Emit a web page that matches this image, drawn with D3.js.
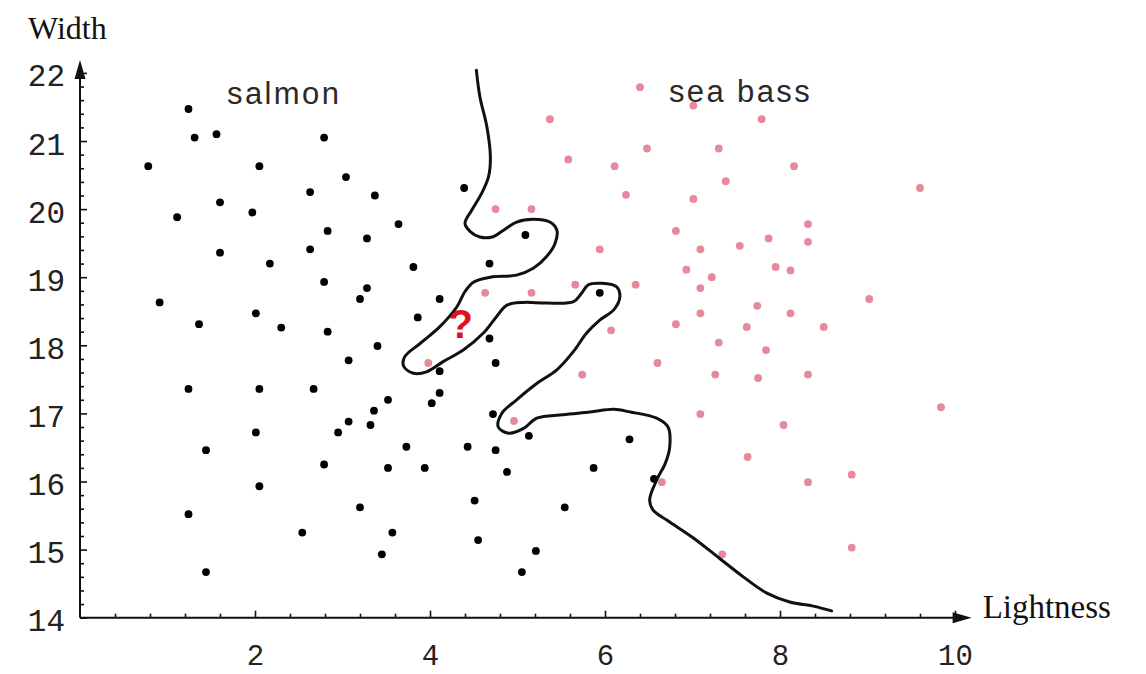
<!DOCTYPE html>
<html>
<head>
<meta charset="utf-8">
<script src="https://cdn.jsdelivr.net/npm/d3@7"></script>
<style>
  html, body { margin: 0; padding: 0; background: #fff; }
  svg { display: block; }
</style>
</head>
<body>
<svg id="chart" width="1146" height="674"></svg>
<script>
// Salmon samples (lightness, width)
const salmonLightness = [1.24, 1.31, 1.56, 2.79, 0.78, 2.05, 3.04, 2.63, 3.37, 1.60, 1.11, 1.97, 3.64, 2.83, 3.28,
  2.63, 1.60, 2.17, 2.79, 3.28, 3.20, 0.91, 2.01, 1.36, 2.30, 2.83, 3.40, 3.07, 1.24, 2.05, 2.67, 3.52, 3.36,
  3.07, 2.95, 3.32, 2.01, 1.44, 2.79, 3.52, 2.05, 3.20, 1.24, 2.54, 3.57, 3.45, 1.44, 4.39, 5.09, 3.81, 4.68,
  4.11, 3.86, 5.94, 4.68, 4.75, 4.11, 4.11, 4.02, 4.72, 5.13, 6.28, 3.73, 4.43, 4.75, 3.94, 4.88, 5.87, 6.56,
  4.51, 5.54, 4.55, 5.21, 5.05];
const salmonWidth = [21.47, 21.05, 21.10, 21.05, 20.63, 20.63, 20.47, 20.25, 20.20, 20.10, 19.88, 19.95, 19.78, 19.68, 19.57,
  19.41, 19.36, 19.20, 18.93, 18.84, 18.68, 18.63, 18.47, 18.31, 18.26, 18.20, 17.99, 17.78, 17.36, 17.36, 17.36, 17.20, 17.04,
  16.88, 16.72, 16.83, 16.72, 16.46, 16.25, 16.20, 15.93, 15.62, 15.52, 15.25, 15.25, 14.93, 14.67, 20.31, 19.62, 19.15, 19.20,
  18.68, 18.41, 18.77, 18.10, 17.74, 17.62, 17.30, 17.15, 16.99, 16.67, 16.62, 16.51, 16.51, 16.46, 16.20, 16.14, 16.20, 16.04,
  15.72, 15.62, 15.14, 14.98, 14.67];

// Sea bass samples (lightness, width)
const seaBassLightness = [6.40, 5.37, 7.01, 7.79, 6.48, 5.58, 6.11, 7.30, 7.38, 6.24, 7.01, 4.75, 5.16, 6.81, 5.94,
  7.09, 7.54, 7.87, 7.95, 6.93, 7.22, 7.09, 6.35, 5.66, 5.16, 4.63, 7.74, 7.09, 6.81, 7.62, 6.07, 8.16, 9.60, 8.32,
  8.32, 8.12, 9.02, 8.12, 8.50, 7.84, 7.75, 8.32, 9.84, 8.04, 7.63, 8.32, 8.82, 8.82, 7.30, 6.60, 5.74, 7.26, 7.09,
  4.96, 3.98, 6.65, 7.34];
const seaBassWidth = [21.79, 21.32, 21.52, 21.32, 20.89, 20.73, 20.63, 20.89, 20.41, 20.21, 20.15, 20.00, 20.00, 19.68, 19.41,
  19.41, 19.46, 19.57, 19.15, 19.11, 19.00, 18.84, 18.89, 18.89, 18.77, 18.77, 18.58, 18.47, 18.31, 18.27, 18.22, 20.63, 20.31, 19.78,
  19.52, 19.10, 18.68, 18.47, 18.27, 17.93, 17.52, 17.57, 17.09, 16.83, 16.36, 15.99, 16.10, 15.03, 18.04, 17.74, 17.57, 17.57, 16.99,
  16.89, 17.74, 15.99, 14.93];

// Decision boundary between the two classes
const boundaryLightness = [4.53, 4.57, 4.65, 4.69, 4.67, 4.59, 4.48, 4.40, 4.46, 4.57, 4.71, 4.84, 4.99, 5.18, 5.37,
  5.45, 5.43, 5.33, 5.18, 4.99, 4.69, 4.50, 4.40, 4.31, 4.11, 3.89, 3.71, 3.70, 3.81, 3.96, 4.15, 4.38, 4.61, 4.76,
  4.88, 5.07, 5.33, 5.64, 5.73, 5.81, 5.96, 6.13, 6.17, 6.10, 5.94, 5.79, 5.64, 5.45, 5.22, 4.99, 4.82, 4.78, 4.90,
  5.07, 5.22, 5.52, 5.83, 6.10, 6.29, 6.59, 6.72, 6.74, 6.69, 6.59, 6.51, 6.55, 6.71, 7.01, 7.31, 7.58, 7.85, 8.11,
  8.38, 8.59];
const boundaryWidth = [22.04, 21.65, 21.21, 20.77, 20.48, 20.23, 19.99, 19.79, 19.67, 19.59, 19.59, 19.69, 19.81, 19.85, 19.81,
  19.69, 19.50, 19.30, 19.13, 19.03, 19.00, 18.93, 18.79, 18.57, 18.27, 18.03, 17.83, 17.69, 17.59, 17.61, 17.76, 17.93, 18.18, 18.42,
  18.59, 18.63, 18.62, 18.64, 18.76, 18.89, 18.91, 18.86, 18.71, 18.52, 18.37, 18.18, 17.91, 17.64, 17.44, 17.20, 17.00, 16.80, 16.71,
  16.78, 16.93, 16.98, 17.02, 17.06, 17.02, 16.93, 16.80, 16.51, 16.27, 16.02, 15.73, 15.58, 15.43, 15.17, 14.87, 14.60, 14.36, 14.23,
  14.17, 14.10];

// Unclassified sample
const queryLightness = 4.35;
const queryWidth = 18.11;

const xTickValues = [2, 4, 6, 8, 10];
const xTickLabels = ["2", "4", "6", "8", "10"];
const yTickValues = [14, 15, 16, 17, 18, 19, 20, 21, 22];
const yTickLabels = ["14", "15", "16", "17", "18", "19", "20", "21", "22"];

const svg = d3.select("#chart");

const x = d3.scaleLinear().domain([0, 10]).range([80, 955]);
const y = d3.scaleLinear().domain([14, 22]).range([617.7, 72.9]);

const xMinor = d3.range(1, 26).map(i => +(i * 0.4).toFixed(2)).filter(v => !xTickValues.includes(v));
const yMinor = d3.range(1, 41).map(i => +(14 + i * 0.2).toFixed(2)).filter(v => Math.abs(v - Math.round(v)) > 1e-6);

const monoFont = "'Liberation Mono', 'DejaVu Sans Mono', monospace";
const serifFont = "'Liberation Serif', 'DejaVu Serif', serif";
const sansFont = "'Liberation Sans', Arial, sans-serif";

// Axes: ticks point into the plot area
const yAxis = d3.axisLeft(y)
  .tickValues(yTickValues)
  .tickFormat((d, i) => yTickLabels[i])
  .tickSizeInner(-7).tickSizeOuter(0).tickPadding(15);
const yAxisMinor = d3.axisLeft(y).tickValues(yMinor).tickFormat("").tickSizeInner(-4).tickSizeOuter(0);
const xAxis = d3.axisBottom(x)
  .tickValues(xTickValues)
  .tickFormat((d, i) => xTickLabels[i])
  .tickSizeInner(-7).tickSizeOuter(0).tickPadding(27);
const xAxisMinor = d3.axisBottom(x).tickValues(xMinor).tickFormat("").tickSizeInner(-4).tickSizeOuter(0);

function styleAxis(g, size) {
  g.select(".domain").remove();
  g.selectAll(".tick line").attr("stroke", "#111").attr("stroke-width", 1.6);
  g.selectAll(".tick text")
    .attr("font-family", monoFont)
    .attr("font-size", size)
    .attr("fill", "#222");
}

svg.append("g").attr("transform", `translate(${x(0)},0)`).call(yAxisMinor).call(styleAxis, 31);
const gy = svg.append("g").attr("transform", `translate(${x(0)},0)`).call(yAxis).call(styleAxis, 31);
gy.selectAll(".tick text").attr("dy", "0.42em");
svg.append("g").attr("transform", `translate(0,${y(14)})`).call(xAxisMinor).call(styleAxis, 29);
svg.append("g").attr("transform", `translate(0,${y(14)})`).call(xAxis).call(styleAxis, 29);

// Axis lines with arrowheads
const xEnd = x(10.19), yEnd = y(22.19);
svg.append("line")
  .attr("x1", x(0)).attr("y1", y(14)).attr("x2", xEnd - 10).attr("y2", y(14))
  .attr("stroke", "#111").attr("stroke-width", 2);
svg.append("line")
  .attr("x1", x(0)).attr("y1", y(14)).attr("x2", x(0)).attr("y2", yEnd + 10)
  .attr("stroke", "#111").attr("stroke-width", 2);
svg.append("path")
  .attr("d", `M${xEnd},${y(14)} L${xEnd - 19},${y(14) - 5.5} L${xEnd - 19},${y(14) + 5.5} Z`)
  .attr("fill", "#111");
svg.append("path")
  .attr("d", `M${x(0)},${yEnd} L${x(0) - 5.5},${yEnd + 19} L${x(0) + 5.5},${yEnd + 19} Z`)
  .attr("fill", "#111");

// Axis titles
svg.append("text")
  .attr("x", x(0) - 52).attr("y", 39)
  .attr("font-family", serifFont).attr("font-size", 32).attr("fill", "#111")
  .text("Width");
svg.append("text")
  .attr("x", xEnd + 11).attr("y", y(14))
  .attr("font-family", serifFont).attr("font-size", 33).attr("fill", "#111")
  .text("Lightness");

// Class labels
svg.append("text")
  .attr("x", x(1.68)).attr("y", y(21.55))
  .attr("font-family", sansFont).attr("font-size", 31).attr("letter-spacing", 2.4).attr("fill", "#2a2a2a")
  .text("salmon");
svg.append("text")
  .attr("x", x(6.73)).attr("y", y(21.58))
  .attr("font-family", sansFont).attr("font-size", 31).attr("letter-spacing", 2.4).attr("fill", "#2a2a2a")
  .text("sea bass");

// Sample points
const seaBass = seaBassLightness.map((v, i) => [v, seaBassWidth[i]]);
const salmon = salmonLightness.map((v, i) => [v, salmonWidth[i]]);

svg.append("g").selectAll("circle").data(seaBass).join("circle")
  .attr("cx", d => x(d[0])).attr("cy", d => y(d[1])).attr("r", 3.9)
  .attr("fill", "#e5899b");

// Decision boundary
const boundary = boundaryLightness.map((v, i) => [v, boundaryWidth[i]]);
svg.append("path")
  .datum(boundary)
  .attr("d", d3.line().x(d => x(d[0])).y(d => y(d[1])).curve(d3.curveCatmullRom.alpha(0.5)))
  .attr("fill", "none").attr("stroke", "#111").attr("stroke-width", 3)
  .attr("stroke-linejoin", "round").attr("stroke-linecap", "round");

svg.append("g").selectAll("circle").data(salmon).join("circle")
  .attr("cx", d => x(d[0])).attr("cy", d => y(d[1])).attr("r", 3.9)
  .attr("fill", "#000");

// Unclassified sample marker
svg.append("text")
  .attr("x", x(queryLightness)).attr("y", y(queryWidth))
  .attr("text-anchor", "middle")
  .attr("font-family", sansFont).attr("font-weight", "bold").attr("font-size", 40)
  .attr("fill", "#e0131c")
  .text("?");
</script>
</body>
</html>
